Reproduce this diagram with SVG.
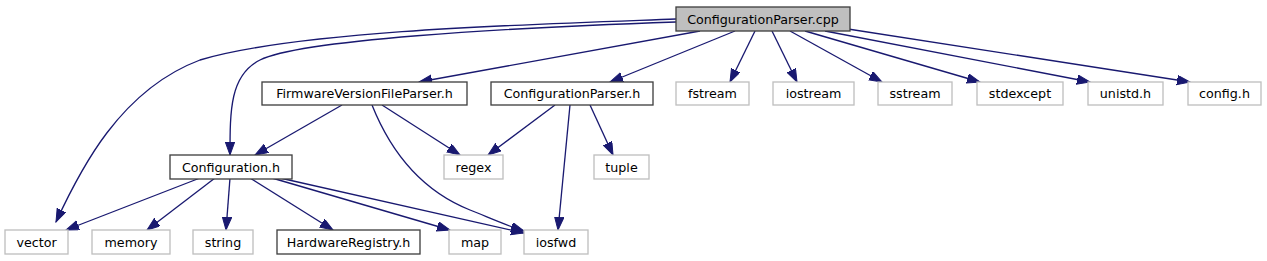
<svg xmlns="http://www.w3.org/2000/svg" width="1267" height="261" viewBox="0 0 1267 261">
<defs>
<marker id="ah" markerUnits="userSpaceOnUse" markerWidth="14" markerHeight="11" refX="13" refY="4.7" orient="auto">
<path d="M0,0 L13,4.7 L0,9.4 z" fill="#191970" stroke="#191970" stroke-width="1"/>
</marker>
<style>
.n rect{fill:#fff;stroke:#404040;stroke-width:1.33}
.u rect{fill:#fff;stroke:#bfbfbf;stroke-width:1.33}
.r rect{fill:#bfbfbf;stroke:#404040;stroke-width:1.33}
text{font-family:"DejaVu Sans",sans-serif;font-size:12.7px;fill:#000;text-anchor:middle}
#edges path{fill:none;stroke:#191970;stroke-width:1.33;marker-end:url(#ah)}
</style>
</defs>
<rect width="1267" height="261" fill="#fff"/>
<g id="edges">
<path d="M676,19 C540,24 300,30 200,60 C120,90 80,170 56,222"/>
<path d="M676,22 C500,28 300,40 260,60 C230,75 230,110 230,155"/>
<path d="M700,31 L419,82"/>
<path d="M735,31 L610,82"/>
<path d="M755,31 L730,82"/>
<path d="M772,31 L797,82"/>
<path d="M790,31 L882,82"/>
<path d="M805,31 L980,82"/>
<path d="M825,31 L1090,82"/>
<path d="M848,29 L1190,82"/>
<path d="M342,105 L255,155"/>
<path d="M382,105 L460,155"/>
<path d="M372,105 C390,150 420,190 470,210 C490,218 505,225 524,231"/>
<path d="M555,105 L488,155"/>
<path d="M590,105 L613,155"/>
<path d="M570,105 L558,230"/>
<path d="M200,178 L66,230"/>
<path d="M215,178 L147,230"/>
<path d="M230,178 L226,230"/>
<path d="M250,178 L333,230"/>
<path d="M272,178 L450,230"/>
<path d="M280,178 L524,233"/>
</g>
<g id="root" class="r"><rect x="676" y="7" width="174" height="24"/><text x="763" y="23.5">ConfigurationParser.cpp</text></g>
<g id="fvfp" class="n"><rect x="262" y="82" width="205" height="23"/><text x="364.5" y="98">FirmwareVersionFileParser.h</text></g>
<g id="cph" class="n"><rect x="491" y="82" width="162" height="23"/><text x="572" y="98">ConfigurationParser.h</text></g>
<g id="fstream" class="u"><rect x="676" y="82" width="73" height="23"/><text x="712.5" y="98">fstream</text></g>
<g id="iostream" class="u"><rect x="773" y="82" width="81" height="23"/><text x="813.5" y="98">iostream</text></g>
<g id="sstream" class="u"><rect x="878" y="82" width="74" height="23"/><text x="915" y="98">sstream</text></g>
<g id="stdexcept" class="u"><rect x="977" y="82" width="86" height="23"/><text x="1020" y="98">stdexcept</text></g>
<g id="unistd" class="u"><rect x="1088" y="82" width="75" height="23"/><text x="1125.5" y="98">unistd.h</text></g>
<g id="config" class="u"><rect x="1188" y="82" width="73" height="23"/><text x="1224.5" y="98">config.h</text></g>
<g id="configuration" class="n"><rect x="170" y="155" width="122" height="24"/><text x="231" y="171.5">Configuration.h</text></g>
<g id="regex" class="u"><rect x="444" y="155" width="59" height="24"/><text x="473.5" y="171.5">regex</text></g>
<g id="tuple" class="u"><rect x="594" y="155" width="55" height="24"/><text x="621.5" y="171.5">tuple</text></g>
<g id="vector" class="u"><rect x="5" y="230" width="63" height="24"/><text x="36.5" y="246.5">vector</text></g>
<g id="memory" class="u"><rect x="92" y="230" width="78" height="24"/><text x="131" y="246.5">memory</text></g>
<g id="string" class="u"><rect x="193" y="230" width="60" height="24"/><text x="223" y="246.5">string</text></g>
<g id="hwreg" class="n"><rect x="277" y="230" width="143" height="24"/><text x="348.5" y="246.5">HardwareRegistry.h</text></g>
<g id="map" class="u"><rect x="449" y="230" width="52" height="24"/><text x="475" y="246.5">map</text></g>
<g id="iosfwd" class="u"><rect x="524" y="230" width="64" height="24"/><text x="556" y="246.5">iosfwd</text></g>
</svg>
